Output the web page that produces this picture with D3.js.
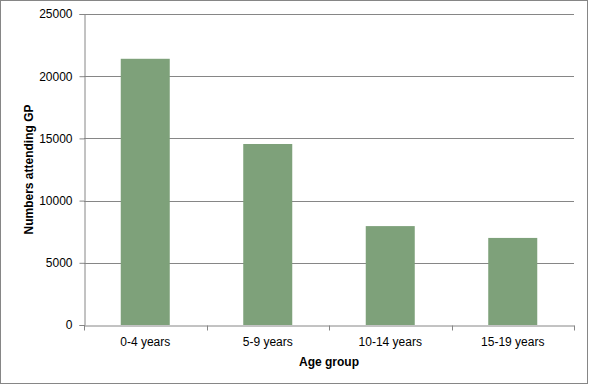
<!DOCTYPE html>
<html>
<head>
<meta charset="utf-8">
<script src="https://cdn.jsdelivr.net/npm/d3@7"></script>
<style>
  body { margin: 0; background: #fff; }
  text { font-family: "Liberation Sans", Arial, sans-serif; }
</style>
</head>
<body>
<div id="chart"></div>
<script>
// chart data
var categories = ["0-4 years", "5-9 years", "10-14 years", "15-19 years"];
var values = [21400, 14550, 7950, 7000];
var yTicks = [0, 5000, 10000, 15000, 20000, 25000];

var width = 590, height = 386;
var margin = { left: 84, right: 16, top: 14, bottom: 61 };

var svg = d3.select("#chart").append("svg")
    .attr("width", width)
    .attr("height", height);

// outer frame
svg.append("rect")
    .attr("x", 0.5).attr("y", 0.5)
    .attr("width", width - 3).attr("height", height - 3)
    .attr("fill", "#fff")
    .attr("stroke", "#868686");

var xScale = d3.scaleBand()
    .domain(categories)
    .range([margin.left, width - margin.right])
    .paddingInner(0.6)
    .paddingOuter(0.3);

var yScale = d3.scaleLinear()
    .domain([0, 25000])
    .range([height - margin.bottom, margin.top]);

// gridlines
svg.selectAll("line.grid")
    .data(yTicks.slice(1))
    .enter()
    .append("line")
    .attr("class", "grid")
    .attr("x1", margin.left)
    .attr("x2", width - margin.right)
    .attr("y1", function (d) { return Math.round(yScale(d)) + 0.5; })
    .attr("y2", function (d) { return Math.round(yScale(d)) + 0.5; })
    .attr("stroke", "#868686");

// bars
svg.selectAll("rect.bar")
    .data(values)
    .enter()
    .append("rect")
    .attr("class", "bar")
    .attr("x", function (d, i) { return xScale(categories[i]); })
    .attr("y", function (d) { return yScale(d); })
    .attr("width", xScale.bandwidth())
    .attr("height", function (d) { return yScale(0) - yScale(d); })
    .attr("fill", "#7ea17a");

// y axis
var yAxis = d3.axisLeft(yScale)
    .tickValues(yTicks)
    .tickSize(5)
    .tickPadding(7)
    .tickFormat(d3.format("d"));

var gy = svg.append("g")
    .attr("transform", "translate(" + (margin.left + 0.5) + ",0)")
    .call(yAxis);
gy.selectAll("path, line").attr("stroke", "#868686");
gy.selectAll("text").attr("font-size", "12px").attr("fill", "#000");

// x axis
var xAxis = d3.axisBottom(xScale)
    .tickSize(0)
    .tickPadding(12);

var gx = svg.append("g")
    .attr("transform", "translate(0," + (Math.round(yScale(0)) + 0.5) + ")")
    .call(xAxis);
gx.select("path").attr("stroke", "#868686");
gx.selectAll("text").attr("font-size", "12px").attr("fill", "#000");

// category boundary ticks
var step = xScale.step();
var bounds = d3.range(categories.length + 1).map(function (i) {
    return margin.left + i * (width - margin.right - margin.left) / categories.length;
});
gx.selectAll("line.bound")
    .data(bounds)
    .enter()
    .append("line")
    .attr("class", "bound")
    .attr("x1", function (d) { return Math.round(d) + 0.5; })
    .attr("x2", function (d) { return Math.round(d) + 0.5; })
    .attr("y1", 0)
    .attr("y2", 5)
    .attr("stroke", "#868686");

// axis titles
svg.append("text")
    .attr("x", (margin.left + width - margin.right) / 2)
    .attr("y", 366)
    .attr("text-anchor", "middle")
    .attr("font-size", "12px")
    .attr("font-weight", "bold")
    .text("Age group");

svg.append("text")
    .attr("transform", "translate(33," + ((margin.top + height - margin.bottom) / 2) + ") rotate(-90)")
    .attr("text-anchor", "middle")
    .attr("font-size", "12px")
    .attr("font-weight", "bold")
    .text("Numbers attending GP");
</script>
</body>
</html>
